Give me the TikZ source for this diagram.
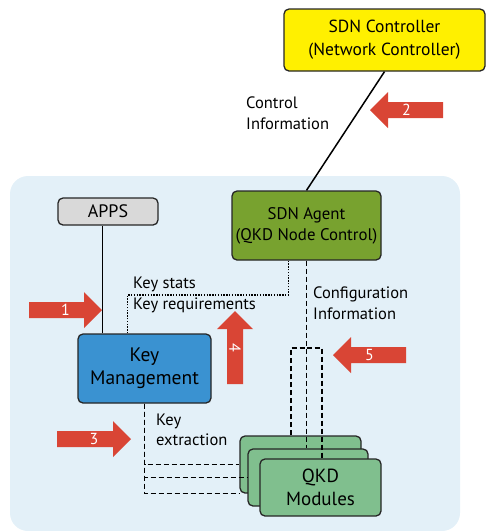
\documentclass[tikz,border=0pt]{standalone}
\usepackage{fontspec}
\setmainfont{PT Sans}
\usepackage{tikz}
\tikzset{
  font={\fontsize{16.5pt}{21pt}\selectfont},
  box/.style={draw=black!85, line width=1.3pt, rounded corners=5pt, align=center, inner sep=0pt},
  lbl/.style={inner sep=0pt, align=left, anchor=west},
  num/.style={inner sep=0pt, text=white, font={\fontsize{16pt}{16pt}\selectfont}},
  redarrow/.style={fill=arrowred},
  dash line/.style={line width=1.5pt, dash pattern=on 5pt off 3pt},
  dot line/.style={line width=1.5pt, dash pattern=on 1.4pt off 1.4pt}}
\definecolor{bgblue}{HTML}{E3F0F8}
\definecolor{ctrlyellow}{HTML}{FFF000}
\definecolor{agentgreen}{HTML}{78A22F}
\definecolor{kmblue}{HTML}{3A92D1}
\definecolor{qkdgreen}{HTML}{80BF8E}
\definecolor{appsgray}{HTML}{D9D9D9}
\definecolor{arrowred}{HTML}{D94535}

\begin{document}
\begin{tikzpicture}[x=1pt,y=1pt]
\useasboundingbox (0,0) rectangle (486,-531);
% node area
\fill [bgblue, rounded corners=18pt] (10,-176) rectangle (460,-531);
% boxes
\node [box, fill=ctrlyellow, minimum width=201pt, minimum height=62pt,
  font={\fontsize{17.5pt}{23pt}\selectfont}] (ctrl) at (384.5,-40) {SDN Controller\\(Network Controller)};
\node [box, fill=agentgreen, minimum width=149pt, minimum height=69pt,
  font={\fontsize{16.8pt}{21pt}\selectfont}] (agent) at (306.5,-225.5) {SDN Agent\\(QKD Node Control)};
\node [box, fill=appsgray, minimum width=100pt, minimum height=27pt,
  font={\fontsize{18pt}{21pt}\selectfont}] (apps) at (108,-211.5) {APPS};
\node [box, fill=kmblue, minimum width=133pt, minimum height=69pt,
  font={\fontsize{19.5pt}{23pt}\selectfont}] (km) at (144.5,-368.5) {Key\\Management};
\node [box, fill=qkdgreen, minimum width=121pt, minimum height=57pt] (qkd1) at (300.5,-464.5) {};
\node [box, fill=qkdgreen, minimum width=120pt, minimum height=57pt] (qkd2) at (308,-477.5) {};
\node [box, fill=qkdgreen, minimum width=121pt, minimum height=57pt,
  font={\fontsize{19pt}{23pt}\selectfont}] (qkd3) at (320.5,-487.5) {QKD\\Modules};
% connections
\draw [line width=1.5pt] (ctrl.south) -- (agent.north);
\draw [line width=1.5pt] ([xshift=25pt]km.north west) -- ([xshift=25pt]km.north west |- apps.south);
\draw [dot line] ([xshift=50pt]km.north west) -- ([xshift=50pt]km.north west |- 0,-295)
  -| ([xshift=57pt]agent.south west);
\coordinate (split) at (agent.south |- 0,-348);
\draw [dash line] (agent.south) -- (agent.south |- qkd2.north);
\draw [dash line] ([xshift=-9.5pt]qkd1.north) |- (split);
\draw [dash line] (split) -| ([xshift=1.5pt]qkd3.north);
\draw [dash line] (km.south) |- (qkd1.west);
\draw [dash line] (km.south) |- (qkd2.west);
\draw [dash line] (km.south) |- (qkd1.south west);
% labels
\node [lbl] (ctrlinfo) at (246,-113.5) {Control\\Information};
\node [lbl] (keystats) at (133,-284) {Key stats};
\node [lbl] (keyreq) at (133,-305) {Key requirements};
\node [lbl] (confinfo) at (313,-303.5) {Configuration\\Information};
\node [lbl, font={\fontsize{16.5pt}{20pt}\selectfont}] (keyext) at (156,-430) {Key\\extraction};
% numbered arrows
\fill [redarrow] (29,-302) -- (84,-302) -- (84,-292) -- (102,-310) -- (84,-328) -- (84,-318) -- (29,-318) -- cycle;
\node [num] (n1) at (65.5,-310) {1};
\fill [redarrow] (443,-102) -- (388,-102) -- (388,-92) -- (370,-110) -- (388,-128) -- (388,-118) -- (443,-118) -- cycle;
\node [num] (n2) at (406.5,-110) {2};
\fill [redarrow] (57,-431) -- (113,-431) -- (113,-421) -- (131,-439) -- (113,-457) -- (113,-447) -- (57,-447) -- cycle;
\node [num] (n3) at (94,-439) {3};
\fill [redarrow] (227,-384) -- (227,-329) -- (217,-329) -- (235,-311) -- (253,-329) -- (243,-329) -- (243,-384) -- cycle;
\node [num, rotate=-90] (n4) at (235,-347.5) {4};
\fill [redarrow] (406,-347) -- (351,-347) -- (351,-337) -- (333,-355) -- (351,-373) -- (351,-363) -- (406,-363) -- cycle;
\node [num] (n5) at (369.5,-355) {5};
\end{tikzpicture}
\end{document}
